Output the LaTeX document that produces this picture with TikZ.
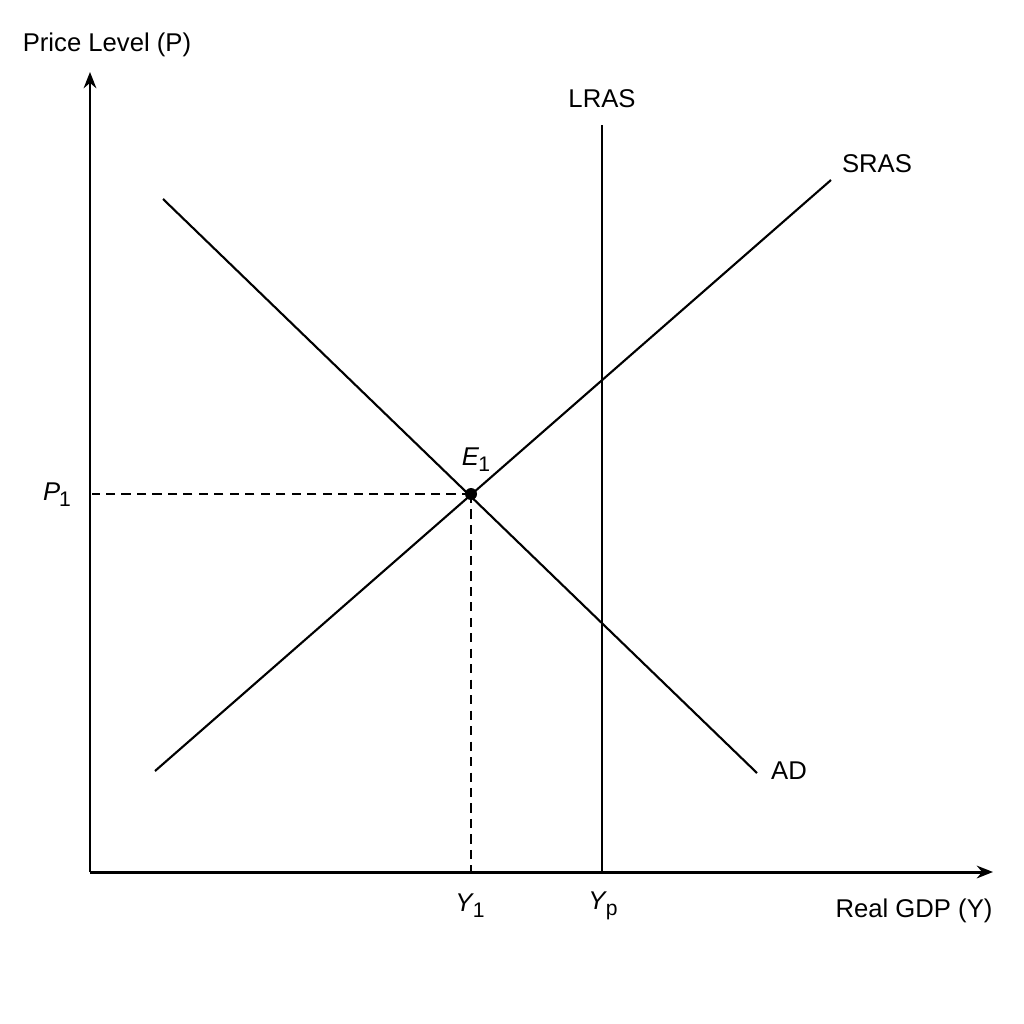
\documentclass[tikz,border=0pt]{standalone}
\usepackage{fontspec}
\setmainfont{Liberation Sans}
\usetikzlibrary{arrows.meta}
\newcommand{\lowidx}[1]{\kern-0.3pt\raisebox{-0.45ex}{\fontsize{6}{6}\selectfont #1}}
\tikzset{
  axis/.style={line width=0.85pt,-{Stealth[length=4.6pt,width=3.6pt]}},
  curve/.style={line width=0.6pt},
  guide/.style={line width=0.55pt,dash pattern=on 2.6pt off 1.8pt},
  lbl/.style={inner sep=0pt,font=\fontsize{7.3}{8}\selectfont}
}
\begin{document}
\begin{tikzpicture}[x=0.01cm,y=-0.01cm]
  \useasboundingbox (0,0) rectangle (1024,1024);
  \fill[white] (0,0) rectangle (1024,1024);
  % axes
  \coordinate (O) at (90,872);
  \coordinate (Ptop) at (90,72);
  \coordinate (Yend) at (993,872);
  \draw[axis] (O) -- (Ptop);
  \draw[axis] (O) -- (Yend);
  \node[lbl] (plab) at (107,45) {Price Level (P)};
  \node[lbl] (ylab) at (914,911) {Real GDP (Y)};
  % curves
  \coordinate (lrasT) at (602,125);
  \coordinate (lrasB) at (602,872);
  \coordinate (srasA) at (155,771);
  \coordinate (srasB) at (831,180);
  \coordinate (adA) at (163,199);
  \coordinate (adB) at (757,773);
  \draw[curve] (lrasB) -- (lrasT);
  \draw[curve] (srasA) -- (srasB);
  \draw[curve] (adA) -- (adB);
  \node[lbl] (lras) at (602,99) {LRAS};
  \node[lbl] (sras) at (877,164) {SRAS};
  \node[lbl] (ad) at (789,771) {AD};
  % equilibrium
  \coordinate (E) at (471,494);
  \coordinate (Pone) at (92,494);
  \coordinate (Yone) at (471,872);
  \draw[guide] (E) -- (Pone);
  \draw[guide] (E) -- (Yone);
  \fill (E) circle (6);
  \node[lbl] (elab) at (476,460) {\textit{E}\lowidx{1}};
  \node[lbl] (p1) at (57,495) {\textit{P}\lowidx{1}};
  \node[lbl] (y1) at (470,906) {\textit{Y}\lowidx{1}};
  \node[lbl] (yp) at (603,906) {\textit{Y}\lowidx{p}};
\end{tikzpicture}
\end{document}
